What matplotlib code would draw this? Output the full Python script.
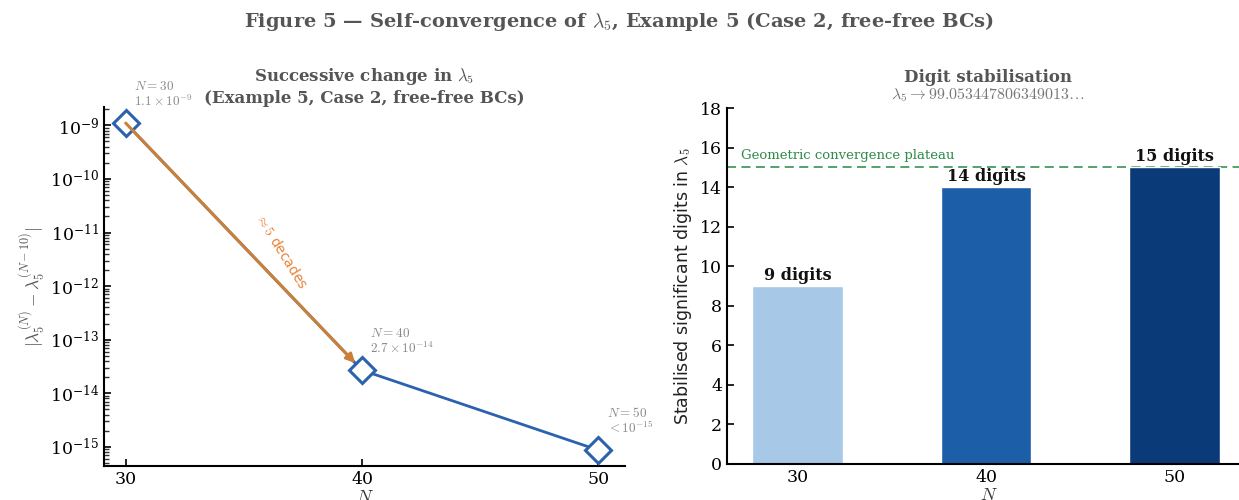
import matplotlib
matplotlib.use("Agg")
import matplotlib.pyplot as plt
from matplotlib.ticker import FixedLocator, NullFormatter
import numpy as np

plt.rcParams['font.family'] = ['DejaVu Serif']
plt.rcParams['mathtext.fontset'] = 'cm'

N_vals = [30, 40, 50]
delta = [1.1e-9, 2.7e-14, 8.7e-16]
point_labels = [r"$N=30$" "\n" r"$1.1\times10^{-9}$",
                r"$N=40$" "\n" r"$2.7\times10^{-14}$",
                r"$N=50$" "\n" r"$<10^{-15}$"]
digits = [9, 14, 15]
bar_labels = ["9 digits", "14 digits", "15 digits"]
bar_colors = ["#a8c8e8", "#1c5ea8", "#0b3a78"]
plateau = 15

fig = plt.figure(figsize=(12.39, 5.0), dpi=100)
ax1 = fig.add_axes([104/1239, 1-466/500, (625-104)/1239, (466-107)/500])
ax2 = fig.add_axes([727/1239, 1-464/500, (1250-727)/1239, (464-108)/500])

fig.suptitle(r"Figure 5 — Self-convergence of $\lambda_5$, Example 5 (Case 2, free-free BCs)",
             x=0.5, y=0.98, fontsize=14, fontweight='bold', color='#555555')

blue = "#2a62ad"
ax1.plot(N_vals, delta, color=blue, lw=2, marker='D', ms=13, mfc='white',
         mec=blue, mew=2.2, zorder=3)
ax1.set_yscale('log')
ax1.set_xlim(29.08, 51.13)
ax1.set_ylim(4.4e-16, 2.2e-9)
decades = np.arange(-16, -8)
ax1.yaxis.set_major_locator(FixedLocator([10.0**d for d in range(-15, -8)]))
minor = [m * 10.0**d for d in decades for m in range(2, 10)]
ax1.yaxis.set_minor_locator(FixedLocator(minor))
ax1.yaxis.set_minor_formatter(NullFormatter())
ax1.set_xticks(N_vals)
for s in ['top', 'right']:
    ax1.spines[s].set_visible(False)
ax1.spines['left'].set_linewidth(1.5)
ax1.spines['bottom'].set_linewidth(1.5)
ax1.tick_params(direction='in', which='both', labelsize=12.5)
ax1.tick_params(which='major', length=5, width=1.2)
ax1.tick_params(which='minor', length=3.5, width=1.0, color='#333333')
ax1.set_xlabel(r"$N$", fontsize=13, color='#333333', labelpad=0)
ax1.set_ylabel(r"$|\lambda_5^{(N)}-\lambda_5^{(N-10)}|$", fontsize=12.5, color='#555555',
               labelpad=2)
ax1.set_title(r"Successive change in $\lambda_5$" "\n" "(Example 5, Case 2, free-free BCs)",
              fontsize=12, fontweight='bold', color='#555555', pad=3)

for x, y, lab in zip(N_vals, delta, point_labels):
    ax1.annotate(lab, (x, y), xytext=(6, 10), textcoords='offset points',
                 fontsize=9.5, color='#888888', ha='left', va='bottom', linespacing=1.05)

ax1.annotate("", xy=(40, delta[1]), xytext=(30, delta[0]),
             arrowprops=dict(arrowstyle='-|>', color='#c8803a', lw=2.2,
                             mutation_scale=13, shrinkA=0, shrinkB=7), zorder=4)
ax1.text(36.6, 10**-11.35, r"$\approx 5$ decades", rotation=-58, color='#e8843a',
         fontsize=10, ha='center', va='center', family='DejaVu Sans')

xpos = np.arange(len(N_vals))
ax2.bar(xpos, digits, width=0.48, color=bar_colors, edgecolor='white', lw=1, zorder=2)
ax2.set_xlim(-0.375, 2.4)
ax2.set_ylim(0, 18)
ax2.set_yticks(range(0, 19, 2))
ax2.set_xticks(xpos)
ax2.set_xticklabels([str(n) for n in N_vals])
for s in ['top', 'right']:
    ax2.spines[s].set_visible(False)
ax2.spines['left'].set_linewidth(1.5)
ax2.spines['bottom'].set_linewidth(1.5)
ax2.tick_params(direction='in', labelsize=12.5, length=5, width=1.2)
ax2.axhline(plateau, color='#4a9a5e', ls='--', lw=1.3, dashes=(5, 3), zorder=1)
ax2.text(-0.3, plateau + 0.25, "Geometric convergence plateau", color='#2e8b4a',
         fontsize=9.5, ha='left', va='bottom')
for x, d, lab in zip(xpos, digits, bar_labels):
    ax2.text(x, d + 0.12, lab, ha='center', va='bottom', fontsize=11.5,
             fontweight='bold', color='#111111')
ax2.set_xlabel(r"$N$", fontsize=13, color='#333333', labelpad=0)
ax2.set_ylabel(r"Stabilised significant digits in $\lambda_5$", fontsize=12.5,
               family='DejaVu Sans', color='#222222')
ax2.set_title("Digit stabilisation", fontsize=12, fontweight='bold', color='#555555',
              pad=19, x=(988-727)/(1250-727))
ax2.text((988-727)/(1250-727), 1.012, r"$\lambda_5 \rightarrow 99.053447806349013\ldots$",
         transform=ax2.transAxes, ha='center', va='bottom', fontsize=11.5, color='#777777')

fig.savefig("out.png", dpi=100)
